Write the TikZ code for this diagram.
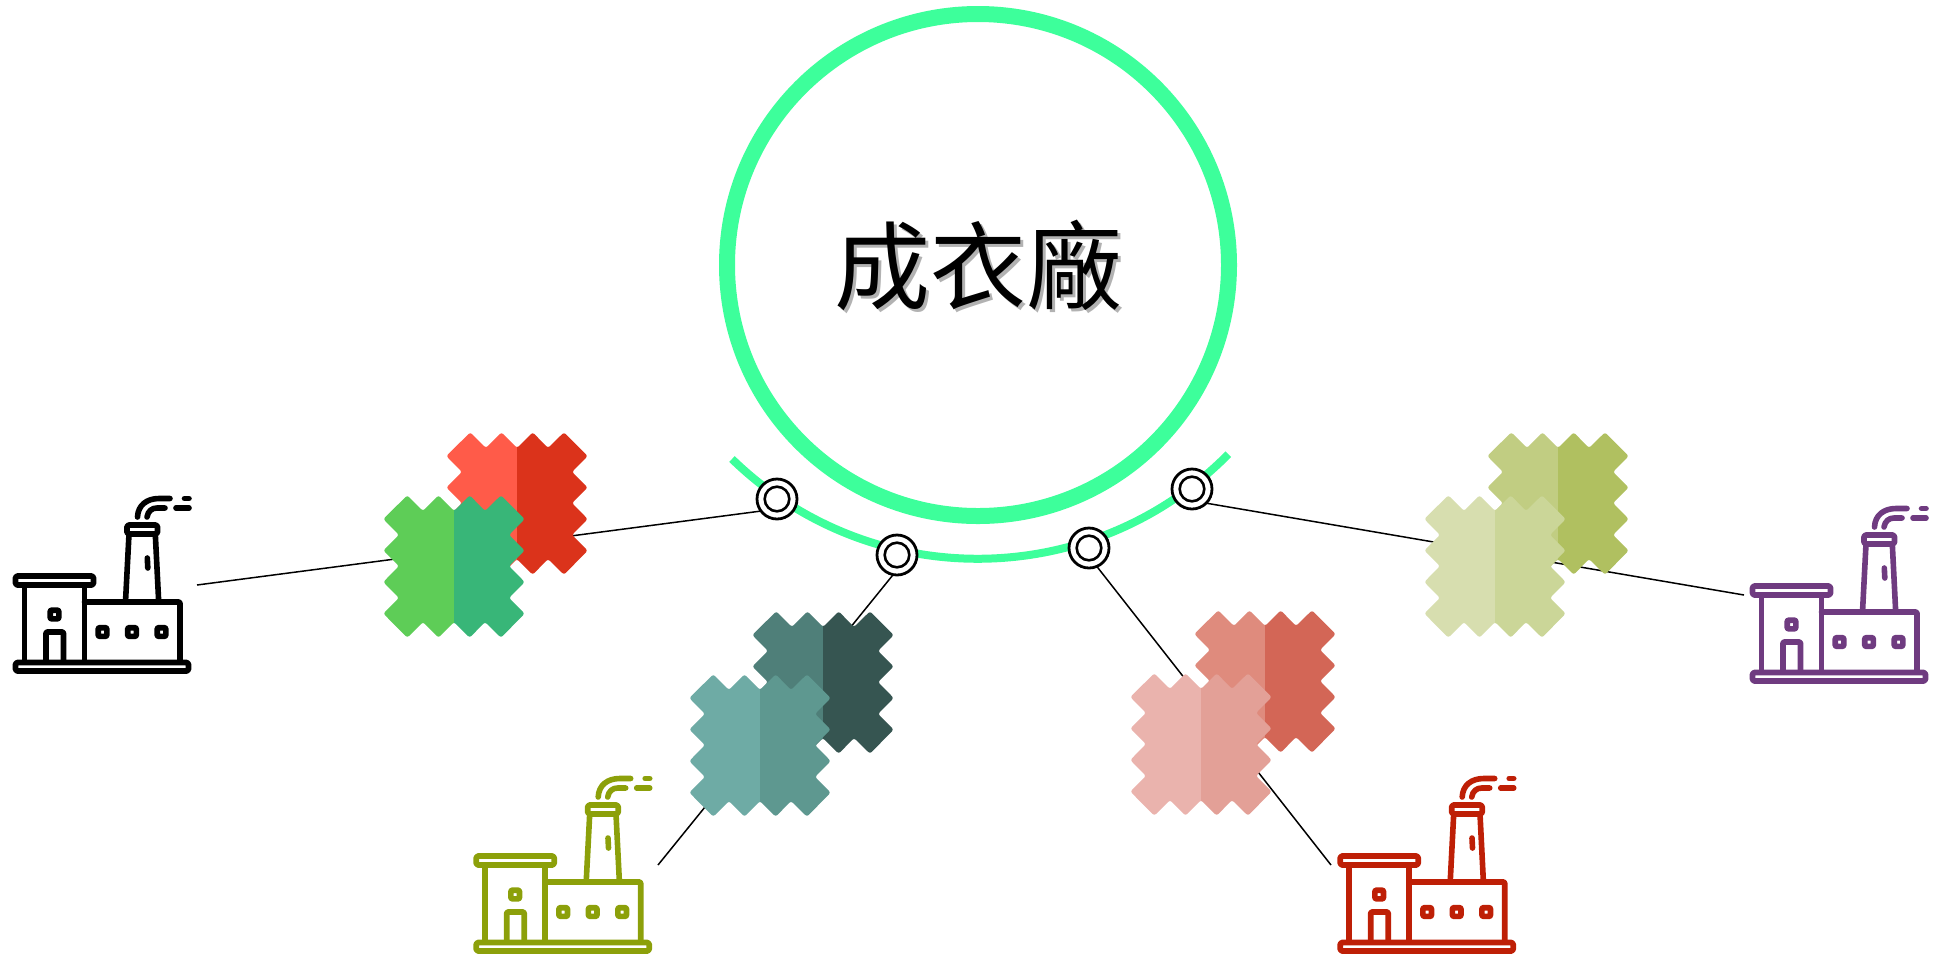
\documentclass[tikz,border=0pt]{standalone}
\usepackage{fontspec}
\newfontfamily\cjktc{Noto Sans CJK TC}
\definecolor{ringgreen}{HTML}{3DFF9B}
\definecolor{fred}{HTML}{BE1F06}
\definecolor{folive}{HTML}{8CA00A}
\definecolor{fpurple}{HTML}{6F3B80}
\definecolor{sRedA}{HTML}{FF5B49}\definecolor{sRedB}{HTML}{DB331B}
\definecolor{sGrnA}{HTML}{5ECD57}\definecolor{sGrnB}{HTML}{38B678}
\definecolor{sTeaA}{HTML}{4F7F79}\definecolor{sTeaB}{HTML}{365551}
\definecolor{sTelA}{HTML}{6EABA5}\definecolor{sTelB}{HTML}{5E9890}
\definecolor{sPnkA}{HTML}{DF8B7D}\definecolor{sPnkB}{HTML}{D36656}
\definecolor{sPklA}{HTML}{EAB3AD}\definecolor{sPklB}{HTML}{E3A097}
\definecolor{sOlvA}{HTML}{C1CD82}\definecolor{sOlvB}{HTML}{B0C060}
\definecolor{sOllA}{HTML}{D7DEAF}\definecolor{sOllB}{HTML}{CBD698}
\newcommand{\swatchoutline}{(22.3,-1.7)--(38,14)--(53.5,-1.7)--(69,14)--(84.7,-1.7)--(100,14)--(116,-1.7)--(139.7,22)--(124,38)--(139.7,53.5)--(124,69)--(139.7,85)--(124,101)--(139.7,116.5)--(116,140.7)--(100,125)--(84.7,140.7)--(69,125)--(53.5,140.7)--(38,125)--(22.3,140.7)--(-1.7,116.5)--(14,101)--(-1.7,85)--(14,69)--(-1.7,53.5)--(14,38)--(-1.7,22)--cycle}
\newcommand{\drawswatch}[4]{%
  \begin{scope}[shift={(#1,#2)}]
    \clip[rounded corners=1.2pt] \swatchoutline;
    \fill[#3] (-3,-3) rectangle (69,142);
    \fill[#4] (69,-3) rectangle (141,142);
  \end{scope}}
\newcommand{\drawfactory}[3]{%
  \begin{scope}[shift={(#1,#2)},draw=#3,line width=2.8pt,line cap=round,line join=round]
    \draw[rounded corners=0.8pt] (15.5,662.5) rectangle (188.5,671);
    \draw[rounded corners=0.8pt] (15.5,576) rectangle (93.5,585);
    \draw (24.5,585) -- (24.5,662);
    \draw (84.5,585) -- (84.5,662);
    \draw[rounded corners=0.5pt] (46,662) -- (46,632) -- (63.5,632) -- (63.5,662);
    \draw[rounded corners=0.5pt] (84.5,602) -- (180,602) -- (180,662);
    \draw[rounded corners=0.5pt] (50.2,610.2) rectangle (58.8,618.8);
    \draw[rounded corners=0.5pt] (98.2,627.7) rectangle (106.8,636.3);
    \draw[rounded corners=0.5pt] (127.7,627.7) rectangle (136.3,636.3);
    \draw[rounded corners=0.5pt] (157.2,627.7) rectangle (165.8,636.3);
    \draw[rounded corners=0.8pt] (127,525) rectangle (157.5,534);
    \draw (129,534) -- (125.5,602);
    \draw (155.3,534) -- (158.7,602);
    \draw (147.3,558) -- (147.8,568);
    \draw (137.5,517) .. controls (138,505) and (147,498.5) .. (159,498.5) -- (170,498.5);
    \draw (147,517) .. controls (148,511) and (152,508) .. (157,508) -- (165,508);
    \draw (176,508) -- (189,508);
    \draw (184.5,498.5) -- (189,498.5);
  \end{scope}}
\tikzset{
  x=0.5pt,y=0.5pt,
  link/.style={black,line width=0.75pt},
  ringouter/.style={circle,draw=black,fill=white,line width=1.4pt,minimum size=20pt,inner sep=0pt,outer sep=0pt},
  ringinner/.style={circle,draw=black,fill=white,line width=1.3pt,minimum size=12.3pt,inner sep=0pt,outer sep=0pt},
  titletext/.style={font=\cjktc\fontsize{48pt}{48pt}\selectfont,inner sep=0pt}
}
\begin{document}
\begin{tikzpicture}[yscale=-1]
\useasboundingbox (0,0) rectangle (1934,955);

\node[circle,draw=ringgreen,line width=8pt,minimum size=251pt,inner sep=0pt,outer sep=0pt] (hub) at (978,265) {};
\draw[ringgreen,line width=4pt] (732,459) arc[start angle=134.2,end angle=44.7,radius=352.5];

\node[text=black,opacity=.3,titletext] (titleshadow) at (981,268) {成衣廠};
\node[text=black,titletext] (title) at (978,265) {成衣廠};

\coordinate (e1) at (197,585);
\coordinate (e2) at (658,865);
\coordinate (e3) at (1331,865);
\coordinate (e4) at (1744,595);

\node[ringouter] (r1) at (777,499) {};
\node[ringouter] (r2) at (897,555) {};
\node[ringouter] (r3) at (1089,548) {};
\node[ringouter] (r4) at (1192,489) {};
\node[ringinner] (i1) at (r1) {};
\node[ringinner] (i2) at (r2) {};
\node[ringinner] (i3) at (r3) {};
\node[ringinner] (i4) at (r4) {};

\draw[link] (e1) -- (r1.217);
\draw[link] (e2) -- (r2.259);
\draw[link] (e3) -- (r3.293);
\draw[link] (e4) -- (r4.315);

\drawswatch{448}{434}{sRedA}{sRedB}
\drawswatch{385}{497}{sGrnA}{sGrnB}
\drawswatch{754}{613}{sTeaA}{sTeaB}
\drawswatch{691}{676}{sTelA}{sTelB}
\drawswatch{1196}{612}{sPnkA}{sPnkB}
\drawswatch{1132}{675}{sPklA}{sPklB}
\drawswatch{1489}{434}{sOlvA}{sOlvB}
\drawswatch{1426}{497}{sOllA}{sOllB}

\drawfactory{0}{0}{black}
\drawfactory{1737}{10}{fpurple}
\drawfactory{460.7}{280}{folive}
\drawfactory{1324.7}{280}{fred}
\end{tikzpicture}
\end{document}
